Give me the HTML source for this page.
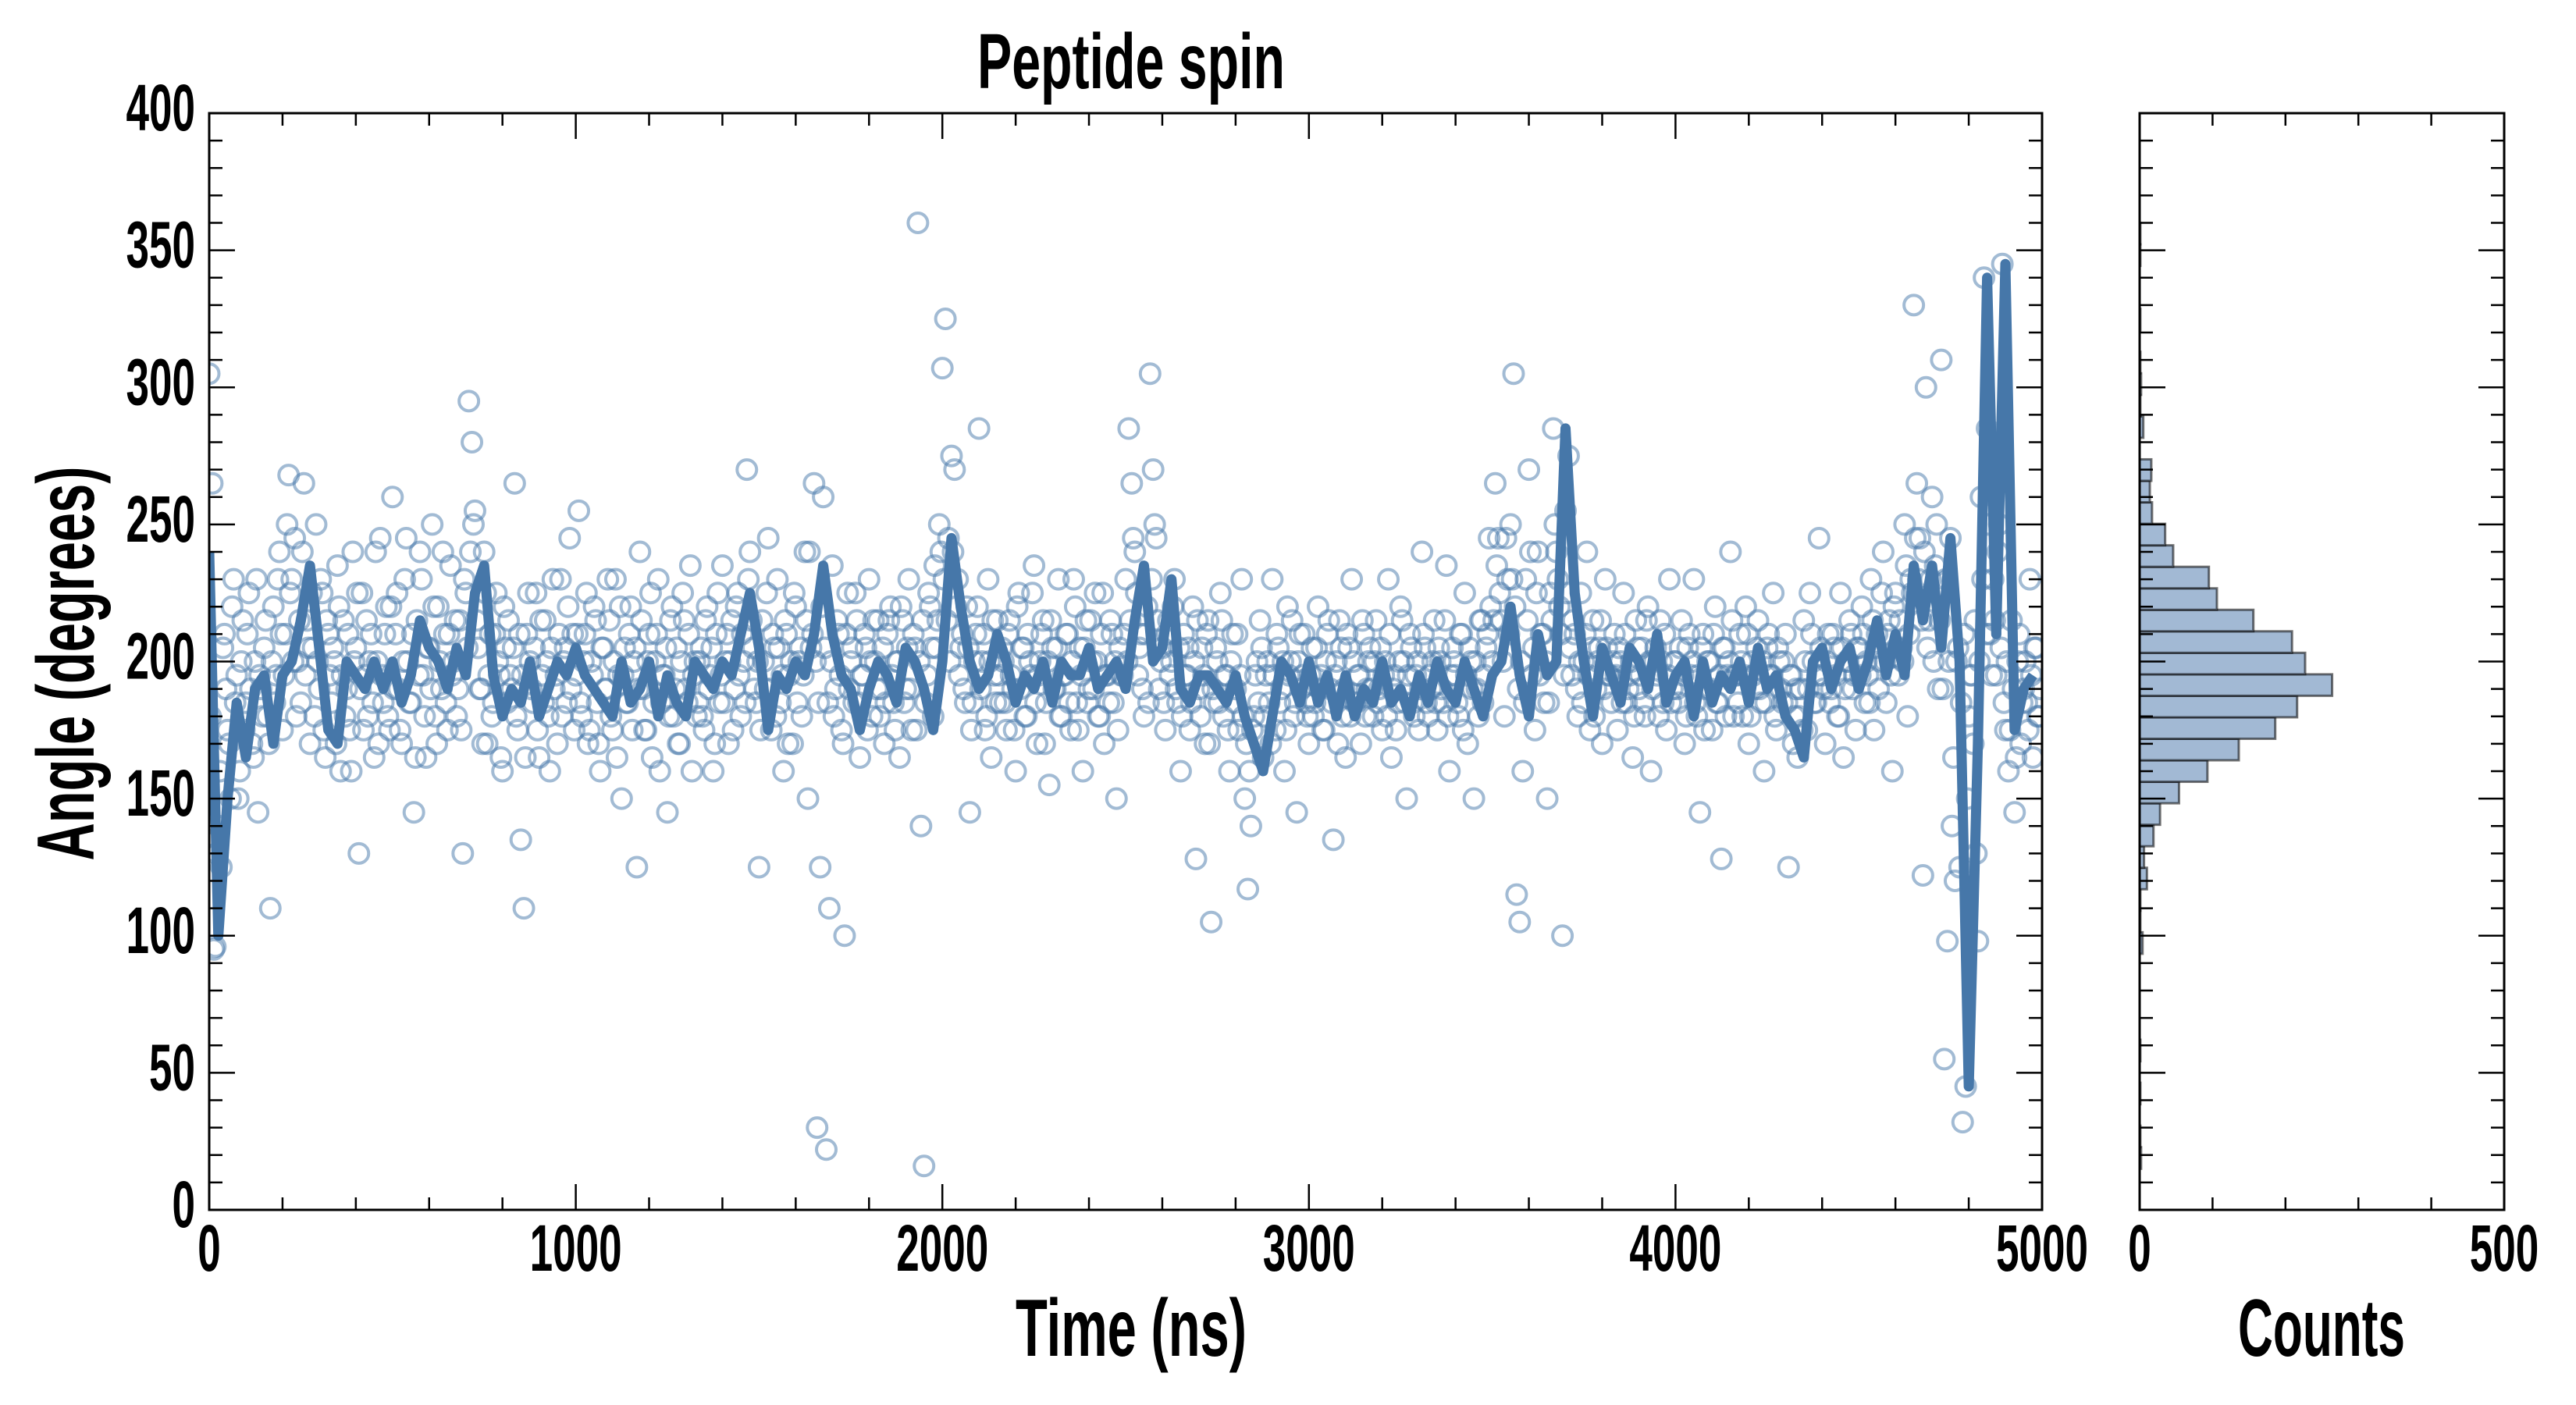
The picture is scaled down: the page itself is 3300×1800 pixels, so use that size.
<!DOCTYPE html>
<html><head><meta charset="utf-8"><style>
html,body{margin:0;padding:0;background:#fff;}
svg{display:block;}
text{font-family:"Liberation Sans Narrow","Liberation Sans",sans-serif;font-weight:bold;fill:#000;}
</style></head><body>
<svg id="chart" width="3300" height="1800" viewBox="0 0 3300 1800" xmlns="http://www.w3.org/2000/svg">
<defs><clipPath id="mainClip"><rect x="268" y="145" width="2348" height="1405"/></clipPath></defs>
<g id="main"></g>
<g id="hist"></g>
</svg>
<script>
const scatterValues = [
305,265,96,140,125,210,175,150,230,195,160,215,185,225,170,200,145,190,205,180,
110,220,195,240,175,210,268,230,245,200,185,265,215,170,205,250,190,225,165,210,
185,200,235,160,215,190,175,240,205,130,225,195,180,210,165,200,245,185,220,175,
260,210,190,170,230,200,185,145,215,240,195,165,205,250,180,220,190,210,175,235,
200,180,215,130,225,295,280,255,205,190,240,170,210,185,225,195,160,205,215,190,
265,175,135,110,210,200,185,225,165,195,215,180,205,190,170,230,200,185,245,210,
195,255,180,210,170,200,220,185,160,205,190,215,175,230,195,150,205,185,220,200,
125,240,190,175,210,165,200,230,185,195,145,215,180,205,170,225,190,210,160,200,
185,205,175,220,195,160,210,185,235,200,170,215,190,225,180,200,270,240,205,185,
125,215,190,245,175,205,230,185,160,210,195,170,220,200,180,240,150,205,265,30,
125,260,22,110,235,190,210,175,100,225,200,185,215,165,195,205,230,180,200,215,
190,170,210,220,185,200,165,215,190,230,175,205,360,140,16,195,220,180,205,250,
307,325,245,275,270,230,205,190,220,145,185,210,285,200,175,230,165,195,215,185,
200,175,215,190,160,225,205,180,210,195,235,170,200,215,185,155,205,190,230,180,
195,210,175,230,185,205,160,215,190,200,225,180,210,170,195,215,185,150,205,195,
230,285,265,240,195,210,180,220,305,270,245,190,205,175,215,200,230,185,160,210,
195,175,220,128,190,205,170,215,105,185,200,225,180,195,160,210,190,175,230,150,
117,140,180,200,215,165,195,185,230,175,205,190,160,220,200,180,145,210,195,185,
170,205,185,220,195,175,210,190,135,200,215,180,165,205,230,185,195,170,210,190,
205,180,215,190,175,200,230,165,195,185,220,200,150,210,185,195,175,240,205,180,
190,215,175,200,185,235,160,205,195,180,210,225,170,200,150,190,215,185,205,245,
200,265,245,215,180,230,250,305,115,105,160,230,270,195,175,240,210,185,150,225,
285,240,220,100,255,275,195,210,180,225,200,240,175,215,190,205,170,230,195,185,
210,175,200,225,185,195,165,215,190,205,180,220,160,200,195,215,185,175,230,190,
200,185,215,170,205,195,230,180,145,210,190,200,175,220,185,128,205,195,240,180,
195,210,180,220,170,200,190,215,185,160,205,195,225,175,200,185,210,125,195,180,
165,190,215,175,225,200,185,245,195,170,210,190,205,180,225,165,200,215,190,175,
205,220,185,195,230,175,210,200,240,185,215,160,225,195,205,250,180,230,330,265,
245,122,300,215,260,235,190,310,55,98,245,165,200,125,32,45,180,195,215,98,
260,340,285,210,230,195,250,345,175,160,215,145,200,170,190,185,230,165,205,180
];
const scatterValuesB = [
180,95,130,160,205,190,170,220,185,150,200,175,210,190,165,230,195,180,215,170,
200,185,230,210,195,250,225,200,180,215,240,195,205,225,180,200,230,175,215,195,
205,170,220,195,180,210,160,200,225,190,175,215,200,185,240,170,195,210,180,220,
190,225,175,200,245,185,210,165,195,230,180,205,190,220,170,200,240,185,210,195,
215,190,175,230,205,240,250,215,190,170,225,195,180,210,200,165,220,185,195,205,
180,210,195,165,225,190,205,175,215,185,200,160,230,195,210,180,205,220,190,175,
210,185,200,225,175,195,215,170,205,190,230,180,200,165,220,195,185,210,175,205,
190,215,175,200,225,185,210,160,195,205,180,220,190,170,200,215,185,235,195,180,
200,180,215,190,205,170,225,195,185,210,200,175,220,195,210,185,230,215,190,200,
175,200,225,190,210,180,205,195,215,170,200,225,185,205,195,215,240,210,200,185,
220,205,185,200,180,215,195,170,210,190,205,225,185,195,210,175,200,215,190,180,
205,185,215,195,175,200,220,185,205,190,210,175,200,215,185,225,205,235,215,240,
230,215,200,240,220,195,210,185,205,175,200,220,190,210,180,200,215,185,195,205,
185,210,195,175,220,190,205,180,200,225,185,195,210,170,200,215,190,205,180,195,
210,185,200,220,175,195,205,185,215,190,200,180,225,195,185,210,200,175,195,210,
200,215,245,225,205,190,210,185,230,250,215,200,185,210,195,220,190,205,180,195,
205,185,200,215,180,195,210,170,190,205,185,215,195,175,200,185,210,195,180,170,
160,175,195,185,205,180,200,170,195,210,185,200,175,195,215,185,200,190,210,180,
195,180,205,190,175,200,215,185,195,170,205,190,210,180,200,185,195,215,180,200,
190,200,185,205,195,180,210,190,175,200,215,185,195,205,180,200,190,210,185,195,
200,185,205,190,215,180,195,200,185,210,175,195,205,190,200,180,215,195,210,220,
215,235,225,200,245,210,230,220,190,200,185,215,240,205,225,195,210,200,185,215,
250,230,210,195,225,205,215,190,200,185,210,195,205,180,200,215,190,205,195,200,
195,205,185,210,190,200,180,205,195,185,215,200,190,205,180,200,210,195,185,200,
190,205,195,180,210,200,185,195,205,175,200,190,210,185,195,205,180,200,215,195,
185,200,195,210,180,195,205,190,200,185,210,195,180,205,190,200,185,195,170,190,
180,175,200,190,210,185,195,205,190,200,185,210,195,180,205,190,200,210,195,205,
195,210,200,185,215,205,190,225,200,210,195,220,205,215,200,235,210,225,245,230,
215,240,205,230,200,250,215,190,230,200,140,120,205,185,210,150,195,170,130,200,
230,210,250,195,215,240,205,185,200,175,190,165,210,185,200,175,195,205,180,190
];
const lineValues = [
240,100,150,185,165,190,195,170,195,200,215,235,205,175,170,200,195,190,200,190,
200,185,195,215,205,200,190,205,195,225,235,195,180,190,185,200,180,190,200,195,
205,195,190,185,180,200,185,190,200,180,195,185,180,200,195,190,200,195,210,225,
205,175,195,190,200,195,210,235,210,195,190,175,190,200,195,185,205,200,190,175,
200,245,220,200,190,195,210,200,185,195,190,200,185,200,195,195,205,190,195,200,
190,215,235,200,205,230,190,185,195,195,190,185,195,180,170,160,180,200,195,185,
200,185,195,180,195,180,190,185,200,185,190,180,195,185,200,190,185,200,190,180,
195,200,220,195,180,210,195,200,285,225,200,180,205,195,185,205,200,190,210,185,
195,200,180,200,185,195,190,200,185,205,190,195,180,175,165,200,205,190,200,205,
190,200,215,195,210,195,235,215,235,205,245,200,45,170,340,210,345,175,190,195
];
const histCounts = [2,1,0,1,0,1,0,0,0,0,4,1,1,10,6,19,28,54,93,136,186,216,264,227,209,156,106,95,46,35,17,14,16,0,5,1,2,1,0,1,0,0,1,1];
const xTicks = [0,1000,2000,3000,4000,5000];
const yTicks = [0,50,100,150,200,250,300,350,400];
const countTicks = [0,500];

const NS='http://www.w3.org/2000/svg';
const M={l:268,r:2616,t:145,b:1550}, H={l:2741,r:3208};
const xS=v=>M.l+(v/5000)*(M.r-M.l);
const yS=v=>M.b-(v/400)*(M.b-M.t);
const cS=v=>H.l+(v/500)*(H.r-H.l);
function mk(tag,attrs,parent){const e=document.createElementNS(NS,tag);for(const k in attrs)e.setAttribute(k,attrs[k]);parent.appendChild(e);return e;}
const main=document.getElementById('main'), hist=document.getElementById('hist');

// scatter
const sg=mk('g',{'clip-path':'url(#mainClip)'},main);


function drawScatter(arr,offset){
  const step=5000/arr.length;
  arr.forEach((v,i)=>{
    const c=mk('circle',{cx:xS(i*step+offset*step),cy:yS(v),r:12.5,fill:'none',stroke:'#4677a9','stroke-opacity':0.5,'stroke-width':4},sg);
    
    
  });
}
drawScatter(scatterValues,0);
drawScatter(scatterValuesB,0.5);
// line
const lstep=5000/lineValues.length;
const pl=mk('polyline',{points:lineValues.map((v,i)=>xS(i*lstep).toFixed(1)+','+yS(v).toFixed(1)).join(' '),fill:'none',stroke:'#4677a9','stroke-width':13,'stroke-linejoin':'round','clip-path':'url(#mainClip)'},main);



// histogram bars
const bmin=15,bw=(360-15)/histCounts.length;
histCounts.forEach((c,i)=>{
  if(c<=0)return;
  const y1=yS(bmin+(i+1)*bw), y2=yS(bmin+i*bw);
  const r=mk('rect',{x:H.l,y:y1,width:cS(c)-H.l,height:y2-y1,fill:'#a2b9d4',stroke:'#000','stroke-opacity':0.55,'stroke-width':3},hist);
  
  
});

// axes frames and ticks
function frame(l,r,parent){mk('rect',{x:l,y:M.t,width:r-l,height:M.b-M.t,fill:'none',stroke:'#000','stroke-width':3},parent);}
function line(x1,y1,x2,y2,p){mk('line',{x1,y1,x2,y2,stroke:'#000','stroke-width':2.5},p);}
frame(M.l,M.r,main); frame(H.l,H.r,hist);
for(let v=0;v<=400;v+=10){const y=yS(v),L=(v%50===0)?33:17;
  line(M.l,y,M.l+L,y,main);line(M.r,y,M.r-L,y,main);
  line(H.l,y,H.l+L,y,hist);line(H.r,y,H.r-L,y,hist);}
for(let v=0;v<=5000;v+=200){const x=xS(v),L=(v%1000===0)?33:16;
  line(x,M.b,x,M.b-L,main);line(x,M.t,x,M.t+L,main);}
for(let v=0;v<=500;v+=100){const x=cS(v),L=(v%500===0)?33:16;
  line(x,M.b,x,M.b-L,hist);line(x,M.t,x,M.t+L,hist);}

function txt(s,x,y,size,anchor,len,parent,name){const t=mk('text',{x,y,'font-size':size,'text-anchor':anchor},parent);
  if(len){t.setAttribute('textLength',len);t.setAttribute('lengthAdjust','spacingAndGlyphs');}
  t.textContent=s;
  
  
  return t;}
yTicks.forEach(v=>txt(String(v),250,yS(v)+22,84,'end',String(v).length*29.5,main,'y-tick-label'));
xTicks.forEach(v=>txt(String(v),xS(v),1628,84,'middle',String(v).length*29.5,main,'x-tick-label'));
countTicks.forEach(v=>txt(String(v),cS(v),1628,84,'middle',String(v).length*29.5,hist,'count-tick-label'));
txt('Peptide spin',1449,113,100,'middle',394,main,'chart-title');
txt('Time (ns)',1449,1737,104,'middle',296,main,'x-axis-title');
txt('Counts',2974,1737,104,'middle',214,hist,'histogram-x-axis-title');
const yl=txt('Angle (degrees)',0,0,104,'middle',505,main,'y-axis-title');
yl.setAttribute('transform','translate(120,850) rotate(-90)');
</script>
</body></html>
